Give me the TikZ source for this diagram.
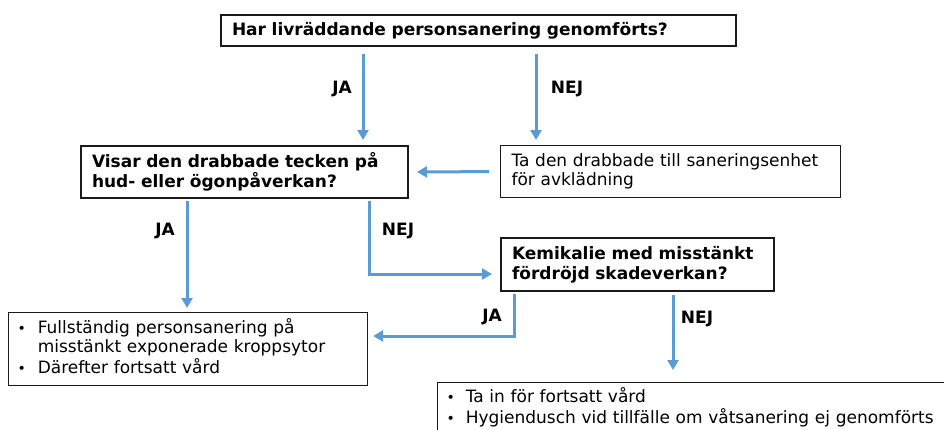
\documentclass[tikz,border=0pt]{standalone}
\usepackage{fontspec}
\setmainfont{DejaVu Sans}
\usetikzlibrary{arrows.meta}
\definecolor{arrblue}{HTML}{5B9BD5}
\definecolor{edge}{HTML}{1A1A1A}
\newcommand{\bul}{{\fontsize{14}{14}\selectfont •}}
\tikzset{
  qbox/.style={draw=edge, line width=2pt, anchor=north west, align=left, inner xsep=11pt, inner ysep=0pt, font=\fontsize{17}{19.5}\selectfont\bfseries},
  ibox/.style={draw=edge, line width=1.1pt, anchor=north west, align=left, inner xsep=11pt, inner ysep=0pt, font=\fontsize{17}{19.5}\selectfont},
  arr/.style={draw=arrblue, line width=3pt, -{Triangle[width=11pt,length=10pt]}},
  lbl/.style={font=\fontsize{17}{19}\selectfont\bfseries, inner sep=0pt}
}
\begin{document}
\begin{tikzpicture}[x=1pt,y=-1pt]
\useasboundingbox (0,0) rectangle (944,429);
\clip (0,0) rectangle (944,429);
\node[qbox, minimum width=515pt, minimum height=31pt, text width=493pt] (top) at (220,14) {Har livräddande personsanering genomförts?};
\node[qbox, minimum width=327pt, minimum height=52pt, text width=305pt] (vis) at (80,145) {Visar den drabbade tecken på\\hud- eller ögonpåverkan?};
\node[ibox, minimum width=340pt, minimum height=52pt, text width=318pt] (ta) at (500,145) {Ta den drabbade till saneringsenhet\\för avklädning};
\node[qbox, minimum width=273pt, minimum height=53pt, text width=251pt] (kem) at (500,237) {Kemikalie med misstänkt\\fördröjd skadeverkan?};
\node[ibox, minimum width=359pt, minimum height=73pt, text width=341pt, inner xsep=9pt] (full) at (8,312) {\begin{tabular}{@{}l@{\hspace{12pt}}l@{}}\bul&Fullständig personsanering på\\&misstänkt exponerade kroppsytor\\\bul&Därefter fortsatt vård\end{tabular}};
\node[ibox, minimum width=540pt, minimum height=62pt, text width=522pt, inner xsep=9pt] (fort) at (437,382) {\begin{tabular}{@{}l@{\hspace{11pt}}l@{}}\bul&Ta in för fortsatt vård\\\bul&Hygiendusch vid tillfälle om våtsanering ej genomförts\\[10pt]\end{tabular}};
\coordinate (c1) at (363,0);
\coordinate (c2) at (536,0);
\coordinate (c4) at (187,0);
\coordinate (c5) at (369,274);
\coordinate (c6) at (514,336);
\coordinate (c7) at (673,0);
\draw[arr, shorten <=7pt, shorten >=5pt] (top.south -| c1) -- (vis.north -| c1);
\draw[arr, shorten <=7pt, shorten >=5pt] (top.south -| c2) -- (ta.north -| c2);
\draw[arr, shorten <=11pt, shorten >=8pt] (ta.west) -- (vis.east);
\draw[arr, shorten <=2pt, shorten >=4pt] (vis.south -| c4) -- (full.north -| c4);
\draw[arr, shorten <=2pt, shorten >=8pt] (vis.south -| c5) -- (c5) -- (kem.west |- c5);
\draw[arr, shorten <=2pt, shorten >=5pt] (kem.south -| c6) -- (c6) -- (full.east |- c6);
\draw[arr, shorten <=3pt, shorten >=12pt] (kem.south -| c7) -- (fort.north -| c7);
\node[lbl] (l1) at (342,89) {JA};
\node[lbl] (l2) at (567,89) {NEJ};
\node[lbl] (l3) at (165,231) {JA};
\node[lbl] (l4) at (398,231) {NEJ};
\node[lbl] (l5) at (492,317) {JA};
\node[lbl] (l6) at (697,319) {NEJ};
\end{tikzpicture}
\end{document}
